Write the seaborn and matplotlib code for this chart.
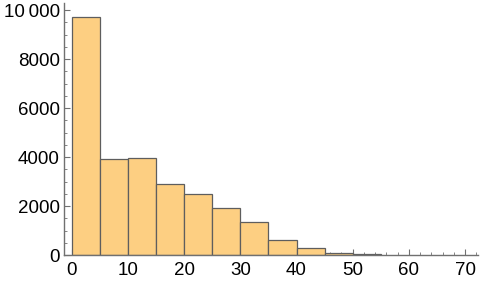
import matplotlib
matplotlib.use("Agg")
import matplotlib.pyplot as plt
import seaborn as sns
import numpy as np
from matplotlib.ticker import MultipleLocator

bin_edges = [0, 5, 10, 15, 20, 25, 30, 35, 40, 45, 50, 55]
counts = [9700, 3900, 3950, 2880, 2480, 1900, 1360, 630, 270, 100, 50]
x_ticks = [0, 10, 20, 30, 40, 50, 60, 70]
y_ticks = [0, 2000, 4000, 6000, 8000, 10000]
y_tick_labels = ["0", "2000", "4000", "6000", "8000", "10\u2009000"]

sns.set_style("white")
plt.rcParams["font.family"] = ["Liberation Sans", "DejaVu Sans"]

fig = plt.figure(figsize=(4.82, 2.87), dpi=100)
ax = fig.add_axes([64 / 482, 32 / 287, 414 / 482, 252 / 287])

centers = [(a + b) / 2 for a, b in zip(bin_edges[:-1], bin_edges[1:])]
sns.histplot(x=centers, weights=counts, bins=bin_edges, ax=ax,
             color="#FDCF82", alpha=1.0, edgecolor="#5e5e5e", linewidth=0.9)

ax.set_xlim(-1.4, 72.3)
ax.set_ylim(0, 10290)
ax.set_xticks(x_ticks)
ax.set_yticks(y_ticks)
ax.set_yticklabels(y_tick_labels)
ax.xaxis.set_minor_locator(MultipleLocator(2))
ax.yaxis.set_minor_locator(MultipleLocator(500))
ax.set_xlabel("")
ax.set_ylabel("")

for s in ["top", "right"]:
    ax.spines[s].set_visible(False)
for s in ["left", "bottom"]:
    ax.spines[s].set_color("#707070")
    ax.spines[s].set_linewidth(1.0)

ax.tick_params(which="major", direction="in", length=4.5, width=0.8,
               color="#707070", labelsize=13.5, labelcolor="black")
ax.tick_params(axis="x", which="major", pad=5)
ax.tick_params(axis="y", which="major", pad=3)
ax.tick_params(which="minor", direction="in", length=2.5, width=0.6,
               color="#707070")
ax.tick_params(axis="both", which="both", bottom=True, left=True)

fig.savefig("out.png", dpi=100)
